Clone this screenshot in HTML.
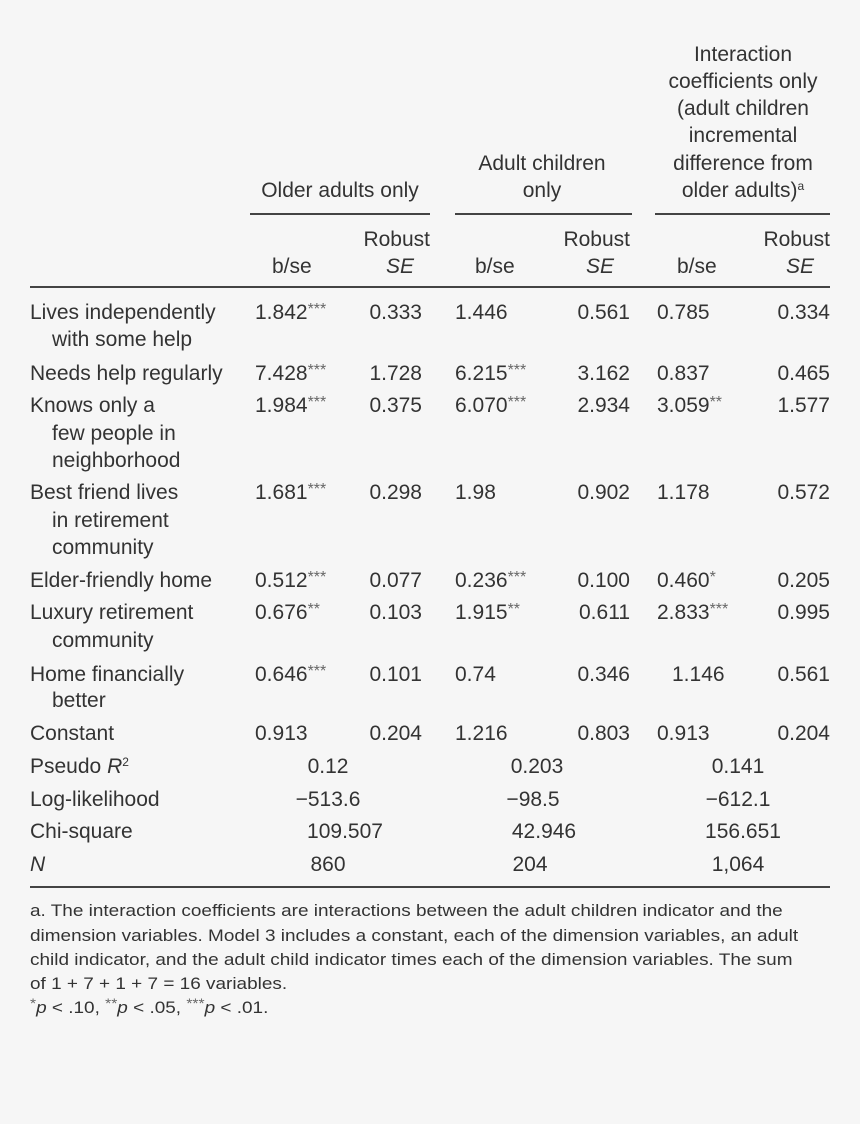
<!DOCTYPE html>
<html><head><meta charset="utf-8"><style>
body{margin:0;width:860px;height:1124px;background:#f6f6f6;position:relative;overflow:hidden;font-family:"Liberation Sans",sans-serif;color:#333;}
.t{position:absolute;font-size:21px;line-height:24px;white-space:nowrap;}
.r{text-align:right;}
.c{text-align:center;transform:translateX(-50%);}
.i{font-style:italic;}
.l{position:absolute;background:#444;}
sup{font-size:12px;line-height:0;vertical-align:7px;}
.s{font-size:16px;vertical-align:5px;line-height:0;color:#666;}
.f{position:absolute;left:30px;font-size:17px;line-height:24px;white-space:nowrap;transform:scaleX(1.115);transform-origin:left center;}
.f .s{font-size:14px;}
</style></head><body>
<div class="t c" style="left:743px;top:43px">Interaction</div>
<div class="t c" style="left:743px;top:70px">coefficients only</div>
<div class="t c" style="left:743px;top:97px">(adult children</div>
<div class="t c" style="left:743px;top:124px">incremental</div>
<div class="t c" style="left:743px;top:152px">difference from</div>
<div class="t c" style="left:743px;top:179px">older adults)<sup>a</sup></div>
<div class="t c" style="left:542px;top:152px">Adult children</div>
<div class="t c" style="left:542px;top:179px">only</div>
<div class="t c" style="left:340px;top:179px">Older adults only</div>
<div class="l" style="left:250px;top:213px;width:180px;height:1.5px"></div>
<div class="l" style="left:455px;top:213px;width:177px;height:1.5px"></div>
<div class="l" style="left:655px;top:213px;width:175px;height:1.5px"></div>

<div class="t r" style="right:430px;top:228px">Robust</div>
<div class="t r" style="right:230px;top:228px">Robust</div>
<div class="t r" style="right:30px;top:228px">Robust</div>
<div class="t" style="left:272px;top:255px">b/se</div>
<div class="t r i" style="right:446px;top:255px">SE</div>
<div class="t" style="left:475px;top:255px">b/se</div>
<div class="t r i" style="right:246px;top:255px">SE</div>
<div class="t" style="left:677px;top:255px">b/se</div>
<div class="t r i" style="right:46px;top:255px">SE</div>
<div class="l" style="left:30px;top:286px;width:800px;height:2px"></div>

<div class="t" style="left:30px;top:301px">Lives independently</div>
<div class="t" style="left:52px;top:328px">with some help</div>
<div class="t" style="left:30px;top:362px">Needs help regularly</div>
<div class="t" style="left:30px;top:394px">Knows only a</div>
<div class="t" style="left:52px;top:422px">few people in</div>
<div class="t" style="left:52px;top:449px">neighborhood</div>
<div class="t" style="left:30px;top:481px">Best friend lives</div>
<div class="t" style="left:52px;top:509px">in retirement</div>
<div class="t" style="left:52px;top:536px">community</div>
<div class="t" style="left:30px;top:569px">Elder-friendly home</div>
<div class="t" style="left:30px;top:601px">Luxury retirement</div>
<div class="t" style="left:52px;top:629px">community</div>
<div class="t" style="left:30px;top:663px">Home financially</div>
<div class="t" style="left:52px;top:689px">better</div>
<div class="t" style="left:30px;top:722px">Constant</div>
<div class="t" style="left:30px;top:755px">Pseudo <i>R</i><sup>2</sup></div>
<div class="t" style="left:30px;top:788px">Log-likelihood</div>
<div class="t" style="left:30px;top:820px">Chi-square</div>
<div class="t i" style="left:30px;top:853px">N</div>

<!-- col1 -->
<div class="t" style="left:255px;top:301px">1.842<span class="s">***</span></div>
<div class="t" style="left:255px;top:362px">7.428<span class="s">***</span></div>
<div class="t" style="left:255px;top:394px">1.984<span class="s">***</span></div>
<div class="t" style="left:255px;top:481px">1.681<span class="s">***</span></div>
<div class="t" style="left:255px;top:569px">0.512<span class="s">***</span></div>
<div class="t" style="left:255px;top:601px">0.676<span class="s">**</span></div>
<div class="t" style="left:255px;top:663px">0.646<span class="s">***</span></div>
<div class="t" style="left:255px;top:722px">0.913</div>
<div class="t r" style="right:438px;top:301px">0.333</div>
<div class="t r" style="right:438px;top:362px">1.728</div>
<div class="t r" style="right:438px;top:394px">0.375</div>
<div class="t r" style="right:438px;top:481px">0.298</div>
<div class="t r" style="right:438px;top:569px">0.077</div>
<div class="t r" style="right:438px;top:601px">0.103</div>
<div class="t r" style="right:438px;top:663px">0.101</div>
<div class="t r" style="right:438px;top:722px">0.204</div>
<!-- col2 -->
<div class="t" style="left:455px;top:301px">1.446</div>
<div class="t" style="left:455px;top:362px">6.215<span class="s">***</span></div>
<div class="t" style="left:455px;top:394px">6.070<span class="s">***</span></div>
<div class="t" style="left:455px;top:481px">1.98</div>
<div class="t" style="left:455px;top:569px">0.236<span class="s">***</span></div>
<div class="t" style="left:455px;top:601px">1.915<span class="s">**</span></div>
<div class="t" style="left:455px;top:663px">0.74</div>
<div class="t" style="left:455px;top:722px">1.216</div>
<div class="t r" style="right:230px;top:301px">0.561</div>
<div class="t r" style="right:230px;top:362px">3.162</div>
<div class="t r" style="right:230px;top:394px">2.934</div>
<div class="t r" style="right:230px;top:481px">0.902</div>
<div class="t r" style="right:230px;top:569px">0.100</div>
<div class="t r" style="right:230px;top:601px">0.611</div>
<div class="t r" style="right:230px;top:663px">0.346</div>
<div class="t r" style="right:230px;top:722px">0.803</div>
<!-- col3 -->
<div class="t" style="left:657px;top:301px">0.785</div>
<div class="t" style="left:657px;top:362px">0.837</div>
<div class="t" style="left:657px;top:394px">3.059<span class="s">**</span></div>
<div class="t" style="left:657px;top:481px">1.178</div>
<div class="t" style="left:657px;top:569px">0.460<span class="s">*</span></div>
<div class="t" style="left:657px;top:601px">2.833<span class="s">***</span></div>
<div class="t" style="left:672px;top:663px">1.146</div>
<div class="t" style="left:657px;top:722px">0.913</div>
<div class="t r" style="right:30px;top:301px">0.334</div>
<div class="t r" style="right:30px;top:362px">0.465</div>
<div class="t r" style="right:30px;top:394px">1.577</div>
<div class="t r" style="right:30px;top:481px">0.572</div>
<div class="t r" style="right:30px;top:569px">0.205</div>
<div class="t r" style="right:30px;top:601px">0.995</div>
<div class="t r" style="right:30px;top:663px">0.561</div>
<div class="t r" style="right:30px;top:722px">0.204</div>
<!-- summary -->
<div class="t c" style="left:328px;top:755px">0.12</div>
<div class="t c" style="left:328px;top:788px">−513.6</div>
<div class="t c" style="left:345px;top:820px">109.507</div>
<div class="t c" style="left:328px;top:853px">860</div>
<div class="t c" style="left:537px;top:755px">0.203</div>
<div class="t c" style="left:533px;top:788px">−98.5</div>
<div class="t c" style="left:544px;top:820px">42.946</div>
<div class="t c" style="left:530px;top:853px">204</div>
<div class="t c" style="left:738px;top:755px">0.141</div>
<div class="t c" style="left:738px;top:788px">−612.1</div>
<div class="t c" style="left:743px;top:820px">156.651</div>
<div class="t c" style="left:738px;top:853px">1,064</div>
<div class="l" style="left:30px;top:886px;width:800px;height:2px"></div>

<div class="f" style="top:899px">a. The interaction coefficients are interactions between the adult children indicator and the</div>
<div class="f" style="top:924px">dimension variables. Model 3 includes a constant, each of the dimension variables, an adult</div>
<div class="f" style="top:948px">child indicator, and the adult child indicator times each of the dimension variables. The sum</div>
<div class="f" style="top:972px">of 1 + 7 + 1 + 7 = 16 variables.</div>
<div class="f" style="top:996px"><span class="s">*</span><i>p</i> &lt; .10, <span class="s">**</span><i>p</i> &lt; .05, <span class="s">***</span><i>p</i> &lt; .01.</div>
</body></html>
